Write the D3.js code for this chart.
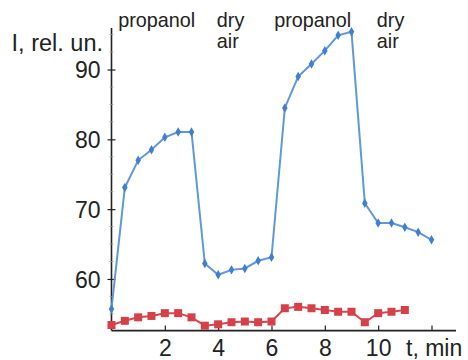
<!DOCTYPE html>
<html><head><meta charset="utf-8">
<script src="https://cdn.jsdelivr.net/npm/d3@7"></script>
<style>body{margin:0;background:#fff}svg{display:block}text{font-family:"Liberation Sans",Arial,sans-serif;fill:#222}</style>
</head><body><svg id="c" width="468" height="360"></svg>
<script>
const blueT = [0,0.5,1,1.5,2,2.5,3,3.5,4,4.5,5,5.5,6,6.5,7,7.5,8,8.5,9,9.5,10,10.5,11,11.5,12];
const blueV = [55.7,73.1,77.0,78.5,80.3,81.05,81.05,62.2,60.6,61.3,61.5,62.6,63.1,84.5,89.0,90.8,92.7,94.9,95.4,70.85,68.0,68.0,67.4,66.7,65.6];
const redT = [0,0.5,1,1.5,2,2.5,3,3.5,4,4.5,5,5.5,6,6.5,7,7.5,8,8.5,9,9.5,10,10.5,11];
const redV = [53.4,54.0,54.5,54.7,55.1,55.1,54.5,53.3,53.5,53.8,53.9,53.8,53.9,55.8,56.0,55.8,55.55,55.3,55.3,53.8,55.1,55.3,55.55];
const xTicks = [2,4,6,8,10,12];
const xTickLabels = ["2","4","6","8","10",""];
const yTicks = [60,70,80,90];
const yMinor = [55,57.5,62.5,65,67.5,72.5,75,77.5,82.5,85,87.5,92.5,95];
const annotations = [
  {t:0.25, lines:["propanol"]},
  {t:3.95, lines:["dry","air"]},
  {t:6.1, lines:["propanol"]},
  {t:9.95, lines:["dry","air"]}
];
const yLabel = "I, rel. un.";
const xLabel = "t, min";

const svg = d3.select("#c");
const x = d3.scaleLinear().domain([0,12]).range([111.5,431.5]);
const y = d3.scaleLinear().domain([52.6,95.95]).range([330.6,28]);
const axisColor = "#222";

// axes lines
svg.append("line").attr("x1",x(0)).attr("x2",456).attr("y1",y(52.6)).attr("y2",y(52.6)).attr("stroke",axisColor).attr("stroke-width",1.6);
svg.append("line").attr("x1",x(0)).attr("x2",x(0)).attr("y1",y(52.6)).attr("y2",y(95.95)).attr("stroke",axisColor).attr("stroke-width",1.6);

// x axis ticks
const xa = d3.axisBottom(x).tickValues(xTicks).tickSize(-5).tickPadding(10).tickFormat((d,i)=>xTickLabels[i]);
const gx = svg.append("g").attr("transform",`translate(0,${y(52.6)})`).call(xa);
gx.select(".domain").remove();
gx.selectAll(".tick line").attr("stroke",axisColor).attr("stroke-width",1.2);
gx.selectAll(".tick text").attr("font-size",23).attr("dy",null).attr("fill","#222").attr("y",25.6);

// y axis ticks
const ya = d3.axisLeft(y).tickValues(yTicks).tickSize(4).tickPadding(8);
const gy = svg.append("g").attr("transform",`translate(${x(0)},0)`).call(ya);
gy.select(".domain").remove();
gy.selectAll(".tick line").attr("x2",-4).attr("x1",4).attr("stroke",axisColor).attr("stroke-width",1.2);
gy.selectAll(".tick text").attr("font-size",23).attr("fill","#222").attr("x",-11).attr("dy","0.36em");
svg.append("g").selectAll("line").data(yMinor).join("line")
  .attr("x1",x(0)-2).attr("x2",x(0)+2).attr("y1",d=>y(d)).attr("y2",d=>y(d))
  .attr("stroke","#999").attr("stroke-width",0.8);

// labels
svg.append("text").attr("x",103).attr("y",50.7).attr("text-anchor","end").attr("font-size",23.5).text(yLabel);
svg.append("text").attr("x",406).attr("y",356.2).attr("font-size",23).text(xLabel);

const ann = svg.append("g");
annotations.forEach(a=>{
  a.lines.forEach((s,i)=>{
    ann.append("text").attr("x",x(a.t)).attr("y",26.7+i*21.6).attr("font-size",19.8).text(s);
  });
});

// red series
const redPts = redT.map((t,i)=>[t,redV[i]]);
svg.append("path").datum(redPts).attr("fill","none").attr("stroke","#d9474e").attr("stroke-width",2)
  .attr("d",d3.line().x(d=>x(d[0])).y(d=>y(d[1])));
svg.append("g").selectAll("rect").data(redPts).join("rect")
  .attr("x",d=>x(d[0])-4).attr("y",d=>y(d[1])-4).attr("width",8).attr("height",8).attr("fill","#d64048");

// blue series
const bluePts = blueT.map((t,i)=>[t,blueV[i]]);
svg.append("path").datum(bluePts).attr("fill","none").attr("stroke","#6097de").attr("stroke-width",2)
  .attr("d",d3.line().x(d=>x(d[0])).y(d=>y(d[1])));
svg.append("g").selectAll("path.m").data(bluePts).join("path").attr("class","m")
  .attr("d",d3.symbol(d3.symbolDiamond,26))
  .attr("transform",d=>`translate(${x(d[0])},${y(d[1])})`).attr("fill","#3f7fd2");
</script></body></html>
